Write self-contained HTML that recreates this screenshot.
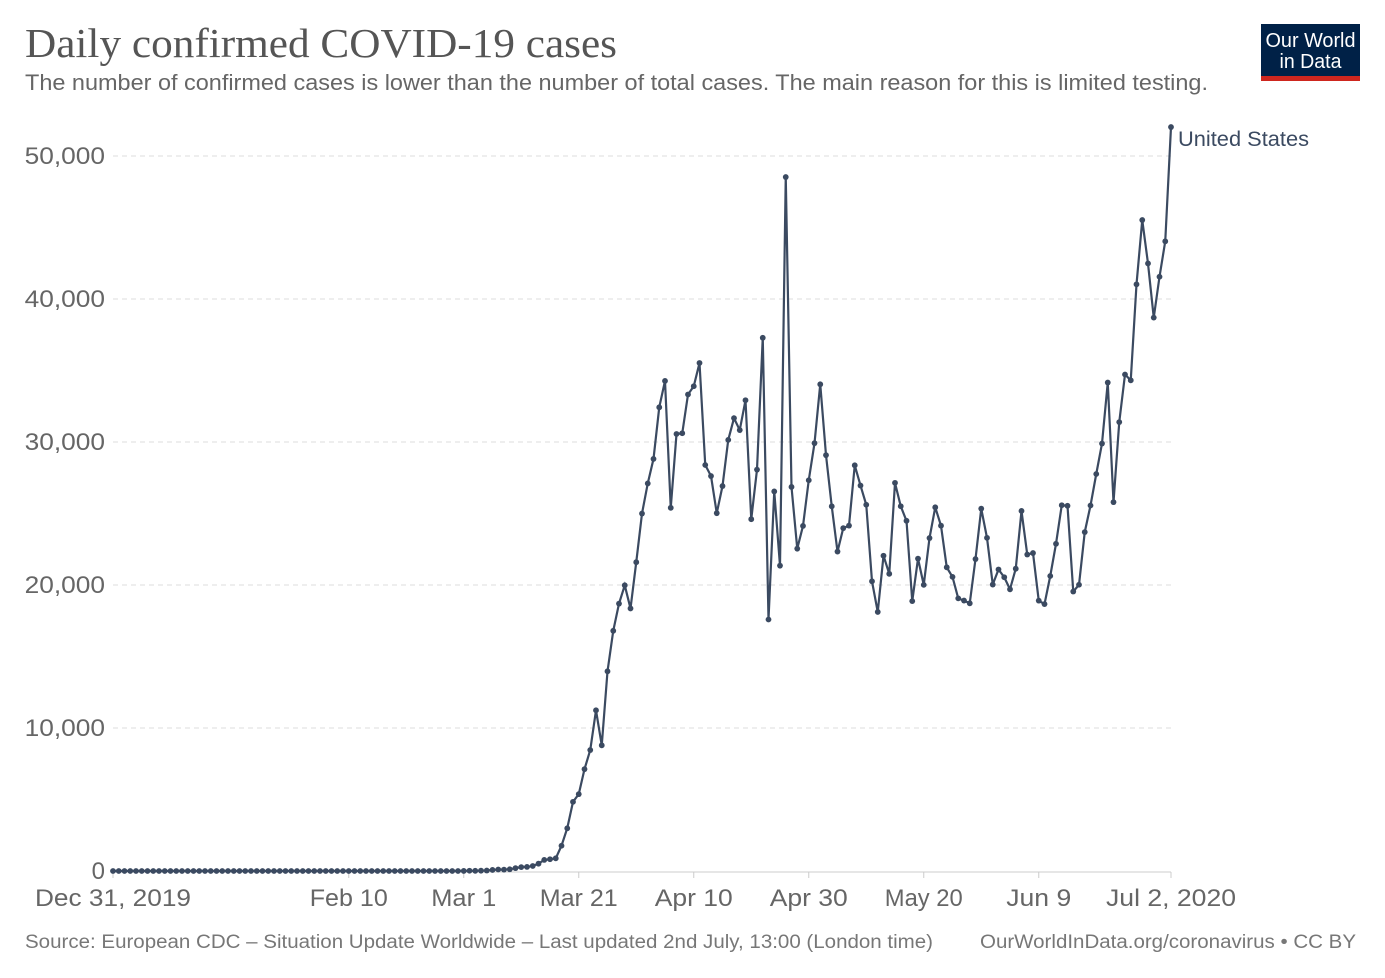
<!DOCTYPE html>
<html><head><meta charset="utf-8"><style>
body{margin:0;background:#fff;width:1385px;height:978px;overflow:hidden;font-family:"Liberation Sans",sans-serif}
</style></head><body>
<svg width="1385" height="978" id="svg" style="position:absolute;left:0;top:0">
<text x="25" y="57" font-family="Liberation Serif, serif" font-size="41" fill="#555" textLength="592" lengthAdjust="spacingAndGlyphs">Daily confirmed COVID-19 cases</text>
<text x="25" y="90" font-size="22" fill="#666" textLength="1183" lengthAdjust="spacingAndGlyphs">The number of confirmed cases is lower than the number of total cases. The main reason for this is limited testing.</text>
<g>
<rect x="1261" y="24" width="99" height="57" fill="#002147"/>
<rect x="1261" y="76" width="99" height="5" fill="#ce261e"/>
<text x="1310.5" y="47" font-size="20" fill="#fff" text-anchor="middle" textLength="90" lengthAdjust="spacingAndGlyphs">Our World</text>
<text x="1310.5" y="68" font-size="20" fill="#fff" text-anchor="middle" textLength="62" lengthAdjust="spacingAndGlyphs">in Data</text>
</g>
<g id="grid"></g><g id="xaxis"></g><g id="series"></g>
<text x="25" y="948" font-size="19" fill="#777" textLength="908" lengthAdjust="spacingAndGlyphs">Source: European CDC – Situation Update Worldwide – Last updated 2nd July, 13:00 (London time)</text>
<text x="980" y="948" font-size="19" fill="#777" textLength="376" lengthAdjust="spacingAndGlyphs">OurWorldInData.org/coronavirus • CC BY</text>
</svg>
<script>
const yTicks=[0,10000,20000,30000,40000,50000];
const yTickLabels=["0","10,000","20,000","30,000","40,000","50,000"];
const xTickDays=[0,41,61,81,101,121,141,161,184];
const xTickLabels=["Dec 31, 2019","Feb 10","Mar 1","Mar 21","Apr 10","Apr 30","May 20","Jun 9","Jul 2, 2020"];
const marchOnward=[3,20,14,22,34,74,105,95,121,200,271,287,351,511,777,823,887,1766,2988,4835,5374,7123,8459,11236,8789,13963,16797,18695,19979,18360,21595,
24998,27103,28819,32425,34272,25398,30561,30613,33323,33901,35527,28391,27620,25023,26922,30148,31667,30833,32922,24601,28065,37289,17588,26543,21352,48529,26857,22541,24132,27326,
29917,34037,29078,25501,22335,23976,24150,28369,26957,25612,20258,18117,22048,20782,27143,25508,24487,18873,21841,20008,23285,25434,24147,21236,20568,19064,18910,18721,21817,25337,23297,
20032,21086,20544,19699,21140,25178,22131,22234,18905,18665,20630,22883,25579,25540,19543,20017,23700,25559,27762,29893,34157,25794,31390,34720,34313,41025,45522,42486,38697,41556,
44036,52027];
const values=new Array(61).fill(0).concat(marchOnward);
const X0=113,X1=1171,D=184,Y0=871,Y1=156,V1=50000;
const xs=d=>X0+(X1-X0)*d/D, ys=v=>Y0-(Y0-Y1)*v/V1;
const NS="http://www.w3.org/2000/svg";
function mk(t,a,p){const e=document.createElementNS(NS,t);for(const k in a)e.setAttribute(k,a[k]);p.appendChild(e);return e;}
const grid=document.getElementById('grid'),xa=document.getElementById('xaxis'),se=document.getElementById('series');
yTicks.forEach((v,i)=>{
 if(v>0){const l=mk('line',{x1:X0,x2:X1,y1:ys(v),y2:ys(v),stroke:'#ddd','stroke-dasharray':'5,4'},grid);
 
 }
 const lab=yTickLabels[i];
 const a={x:105,y:ys(v)+8,'font-size':24,fill:'#666','text-anchor':'end'};
 if(lab.length>1){a.textLength=lab.length*13.4;a.lengthAdjust='spacingAndGlyphs';}
 const t=mk('text',a,grid);t.textContent=lab;
 
 
});
const ax=mk('line',{x1:X0,x2:X1,y1:Y0+1,y2:Y0+1,stroke:'#ccc'},xa);


xTickDays.forEach((d,i)=>{
 const tk=mk('line',{x1:xs(d),x2:xs(d),y1:Y0+1,y2:Y0+7,stroke:'#ccc'},xa);
 
 
 const lab=xTickLabels[i];
 const w=Math.min(lab.length*13,130);
 const t=mk('text',{x:xs(d),y:906,'font-size':24,fill:'#666','text-anchor':'middle',textLength:(lab.length>10&&i>0)?130:lab.length*13,lengthAdjust:'spacingAndGlyphs'},xa);t.textContent=lab;
 
 
});
const pts=values.map((v,i)=>xs(i).toFixed(2)+','+ys(v).toFixed(2)).join(' ');
const pl=mk('polyline',{points:pts,fill:'none',stroke:'#3b4a61','stroke-width':2.2},se);


values.forEach((v,i)=>{const c=mk('circle',{cx:xs(i),cy:ys(v),r:2.9,fill:'#3b4a61'},se);
 
 });
const lab=mk('text',{x:1178,y:146,'font-size':21,fill:'#3b4a61',textLength:131,lengthAdjust:'spacingAndGlyphs'},se);lab.textContent='United States';


</script>
</body></html>
